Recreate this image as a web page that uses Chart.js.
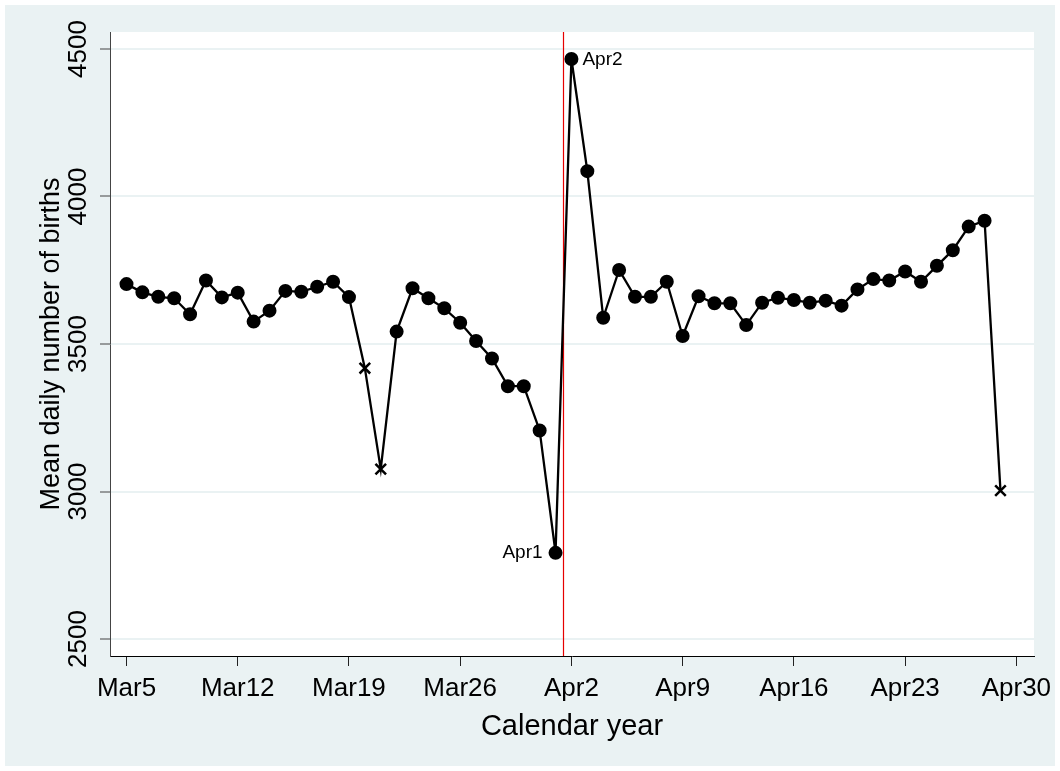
<!DOCTYPE html>
<html><head><meta charset="utf-8">
<script src="https://cdn.jsdelivr.net/npm/chart.js@4.4.0/dist/chart.umd.min.js"></script>
<style>html,body{margin:0;padding:0;background:#fff;}#wrap{width:1060px;height:771px;}</style>
</head><body><div id="wrap"><canvas id="c" width="1060" height="771"></canvas></div>
<script>
const dates = ['Mar5','Mar6','Mar7','Mar8','Mar9','Mar10','Mar11','Mar12','Mar13','Mar14',
  'Mar15','Mar16','Mar17','Mar18','Mar19','Mar20','Mar21','Mar22','Mar23','Mar24',
  'Mar25','Mar26','Mar27','Mar28','Mar29','Mar30','Mar31','Apr1','Apr2','Apr3',
  'Apr4','Apr5','Apr6','Apr7','Apr8','Apr9','Apr10','Apr11','Apr12','Apr13',
  'Apr14','Apr15','Apr16','Apr17','Apr18','Apr19','Apr20','Apr21','Apr22','Apr23',
  'Apr24','Apr25','Apr26','Apr27','Apr28','Apr29'];
const births = [3703,3675,3660,3655,3601,3715,3658,3674,3576,3613,
  3680,3677,3694,3711,3659,3418,3076,3542,3689,3655,
  3621,3572,3510,3451,3357,3357,3207,2792,4466,4086,
  3589,3751,3660,3660,3711,3527,3662,3638,3638,3564,
  3640,3657,3649,3640,3647,3630,3685,3720,3715,3746,
  3711,3765,3818,3898,3918,3003];
const crossDates = ['Mar20','Mar21','Apr29'];
const labelledDates = ['Apr1','Apr2'];
const tickDays = [0,7,14,21,28,35,42,49,56];
const tickLabels = ['Mar5','Mar12','Mar19','Mar26','Apr2','Apr9','Apr16','Apr23','Apr30'];
const yTicks = [2500,3000,3500,4000,4500];
const cutoffDay = 27.5;

const FONT = "'Liberation Sans', Arial, Helvetica, sans-serif";
const points = births.map((v,i)=>({x:i, y:v}));
const isCross = i => crossDates.includes(dates[i]);

const plugin = {
  id:'stataDeco',
  beforeDraw(chart){
    const {ctx, chartArea:a} = chart;
    ctx.save();
    ctx.fillStyle='#ffffff'; ctx.fillRect(0,0,chart.width,chart.height);
    ctx.fillStyle='#EAF2F3'; ctx.fillRect(5,5,chart.width-10,chart.height-10);
    ctx.fillStyle='#ffffff'; ctx.fillRect(a.left,a.top,a.right-a.left,a.bottom-a.top);
    ctx.restore();
  },
  beforeDatasetsDraw(chart){
    const {ctx, chartArea:a, scales} = chart;
    const x = Math.round(scales.x.getPixelForValue(cutoffDay))+0.5;
    ctx.save();
    ctx.strokeStyle='rgb(230,0,0)'; ctx.lineWidth=1.2;
    ctx.beginPath(); ctx.moveTo(x,a.top); ctx.lineTo(x,a.bottom); ctx.stroke();
    ctx.restore();
  },
  afterDatasetsDraw(chart){
    const {ctx, scales} = chart;
    ctx.save();
    ctx.font = '19px ' + FONT;
    ctx.fillStyle = '#000';
    ctx.textBaseline = 'middle';
    labelledDates.forEach((d, k) => {
      const i = dates.indexOf(d);
      const px = scales.x.getPixelForValue(i), py = scales.y.getPixelForValue(births[i]);
      if (k === 0) { ctx.textAlign='right'; ctx.fillText(d, px-13, py); }
      else { ctx.textAlign='left'; ctx.fillText(d, px+11, py+1); }
    });
    ctx.restore();
  }
};

new Chart(document.getElementById('c'), {
  type:'line',
  data:{ datasets:[{
    data: points,
    borderColor:'#000', borderWidth:2.3, tension:0,
    pointBackgroundColor:'#000', pointBorderColor:'#000',
    pointStyle: ctx => isCross(ctx.dataIndex) ? 'crossRot' : 'circle',
    pointRadius: ctx => isCross(ctx.dataIndex) ? 7.5 : 6,
    pointBorderWidth: ctx => isCross(ctx.dataIndex) ? 2.5 : 2,
    clip:false
  }]},
  options:{
    responsive:false, animation:false,
    layout:{padding:{left:0, top:32, right:26, bottom:0}},
    plugins:{legend:{display:false}, tooltip:{enabled:false}},
    scales:{
      x:{
        type:'linear', min:-1.038, max:57.11,
        afterBuildTicks: s => { s.ticks = tickDays.map(v=>({value:v})); },
        afterFit: s => { s.height = 115; },
        ticks:{ autoSkip:false, maxRotation:0, minRotation:0, padding:7,
          color:'#000', font:{family:FONT, size:26},
          callback:(v)=>{ const k = tickDays.indexOf(v); return k>=0 ? tickLabels[k] : ''; } },
        grid:{ drawOnChartArea:false, drawTicks:true, tickLength:10, tickColor:'#222', tickWidth:1 },
        border:{ display:true, color:'#000', width:1 },
        title:{ display:true, text:'Calendar year', color:'#000',
          font:{family:FONT, size:29}, padding:{top:0,bottom:27} }
      },
      y:{
        min:2442.4, max:4557.6,
        afterBuildTicks: s => { s.ticks = yTicks.map(v=>({value:v})); },
        afterFit: s => { s.width = 110; },
        ticks:{ autoSkip:false, minRotation:90, maxRotation:90, crossAlign:'center', padding:-8,
          color:'#000', font:{family:FONT, size:26}, callback:v=>String(v) },
        grid:{ color:'#EAF2F3', lineWidth:2, drawTicks:true, tickLength:10, tickColor:'#444', tickWidth:1 },
        border:{ display:true, color:'#444', width:1 },
        title:{ display:true, text:'Mean daily number of births', color:'#000',
          font:{family:FONT, size:27}, padding:{top:35,bottom:0} }
      }
    }
  },
  plugins:[plugin]
});
</script>
</body></html>
